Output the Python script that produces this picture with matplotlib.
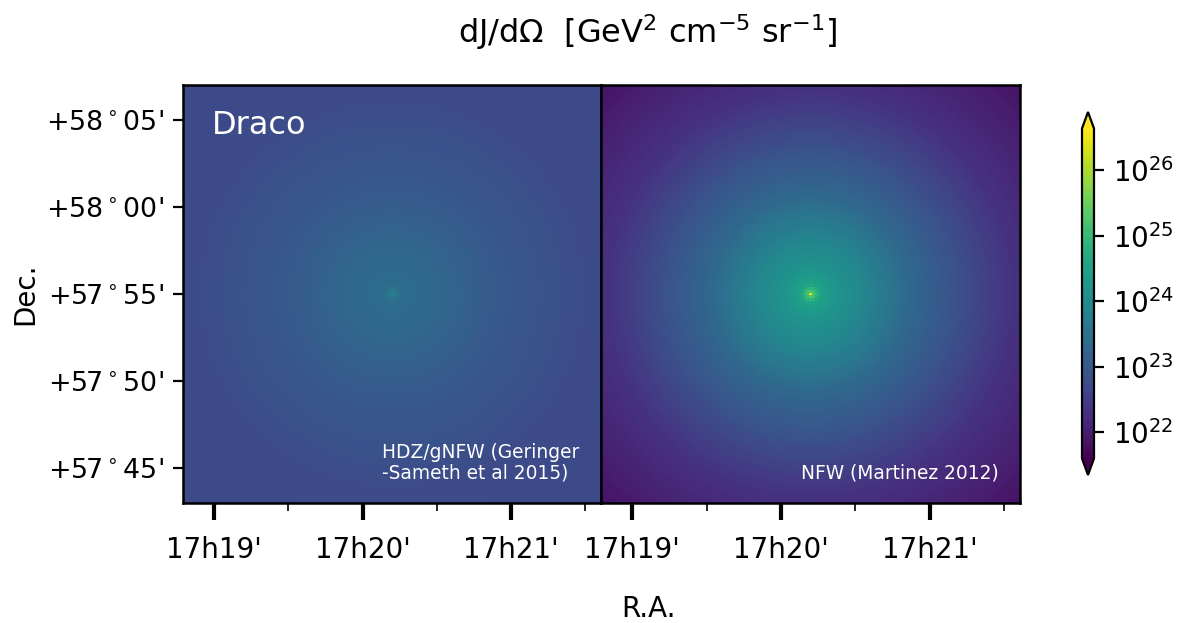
import numpy as np
import matplotlib
matplotlib.use("Agg")
import matplotlib.pyplot as plt
from matplotlib.colors import LogNorm
from matplotlib.ticker import FixedLocator, NullLocator

# ---- data ----
# radial profiles: radius from Draco centre (arcmin) and log10 dJ/dOmega
radius_left = [0.0, 0.15, 0.57, 3.4, 6.9, 11.5, 17.0]
logj_left = [24.1, 23.65, 23.4, 23.22, 22.95, 22.76, 22.7]
radius_right = [0.0, 0.15, 0.57, 1.5, 2.9, 5.75, 8.6, 11.5, 17.0]
logj_right = [26.4, 25.3, 24.5, 24.2, 23.95, 23.3, 22.83, 22.36, 21.85]

panel_labels = ["HDZ/gNFW (Geringer\n-Sameth et al 2015)", "NFW (Martinez 2012)"]
ra_ticks_min = [19, 20, 21]          # minutes past 17h
ra_minor_min = [19.5, 20.5, 21.5]
ra_ticklabels = ["17h19'", "17h20'", "17h21'"]
dec_ticks_arcmin = [-10, -5, 0, 5, 10]   # relative to +57d55'
dec_ticklabels = [r"+57$^\circ$45'", r"+57$^\circ$50'", r"+57$^\circ$55'",
                  r"+58$^\circ$00'", r"+58$^\circ$05'"]
cbar_ticks = [1e22, 1e23, 1e24, 1e25, 1e26]
vmin, vmax = 10 ** 21.6, 10 ** 26.64

# field geometry
ra_lo, ra_hi = 18.791, 21.606       # RA minutes past 17h
ra_c = 20.199
dec_half = 12.0                     # arcmin

fig = plt.figure(figsize=(5.9, 3.115), dpi=200)
W, H = 1180, 623
def box(x0, y0, x1, y1):
    return [x0 / W, 1 - y1 / H, (x1 - x0) / W, (y1 - y0) / H]

ax_l = fig.add_axes(box(183, 85, 601, 503))
ax_r = fig.add_axes(box(601, 85, 1020, 503))
cax = fig.add_axes(box(1082, 112, 1094, 475))

n = 141
ra_span_arcmin = 2 * dec_half
u = np.linspace(-dec_half, dec_half, n)
X, Y = np.meshgrid(u, u)
xc = ((ra_c - ra_lo) / (ra_hi - ra_lo) - 0.5) * ra_span_arcmin
R = np.hypot(X - xc, Y)

norm = LogNorm(vmin=vmin, vmax=vmax)
for ax, rad, lj in [(ax_l, radius_left, logj_left),
                    (ax_r, radius_right, logj_right)]:
    J = 10 ** np.interp(R, rad, lj)
    im = ax.imshow(J, origin="lower", cmap="viridis", norm=norm,
                   extent=[ra_lo, ra_hi, -dec_half, dec_half], aspect="auto",
                   interpolation="nearest")
    ax.set_xlim(ra_lo, ra_hi)
    ax.set_ylim(-dec_half, dec_half)
    ax.xaxis.set_major_locator(FixedLocator(ra_ticks_min))
    ax.xaxis.set_minor_locator(FixedLocator(ra_minor_min))
    ax.set_xticklabels(ra_ticklabels, fontsize=10)
    ax.tick_params(axis="x", which="major", length=6, width=1.5, pad=6)
    ax.tick_params(axis="x", which="minor", length=3, width=0.6)
    ax.yaxis.set_minor_locator(NullLocator())
    for s in ax.spines.values():
        s.set_linewidth(0.9)

ax_l.set_yticks(dec_ticks_arcmin)
ax_l.set_yticklabels(dec_ticklabels, fontsize=9.7)
ax_r.set_yticks([])

ax_l.text(0.07, 0.902, "Draco", color="white", fontsize=11.5,
          transform=ax_l.transAxes, ha="left", va="center")
ax_l.text(0.477, 0.048, panel_labels[0], color="white", fontsize=6.7,
          transform=ax_l.transAxes, ha="left", va="bottom", linespacing=1.15)
ax_r.text(0.95, 0.072, panel_labels[1], color="white", fontsize=6.7,
          transform=ax_r.transAxes, ha="right", va="center")

cb = fig.colorbar(im, cax=cax, extend="both")
cb.set_ticks(cbar_ticks)
cb.ax.minorticks_off()
cb.ax.tick_params(labelsize=10)

fig.text(648 / W, 1 - 32 / H, r"dJ/d$\Omega$  [GeV$^2$ cm$^{-5}$ sr$^{-1}$]",
         ha="center", va="center", fontsize=11.5)
fig.text(648 / W, 1 - 609 / H, "R.A.", ha="center", va="center", fontsize=10)
fig.text(25 / W, 1 - 294 / H, "Dec.", ha="center", va="center", fontsize=10,
         rotation=90)

fig.savefig("out.png", dpi=200)
